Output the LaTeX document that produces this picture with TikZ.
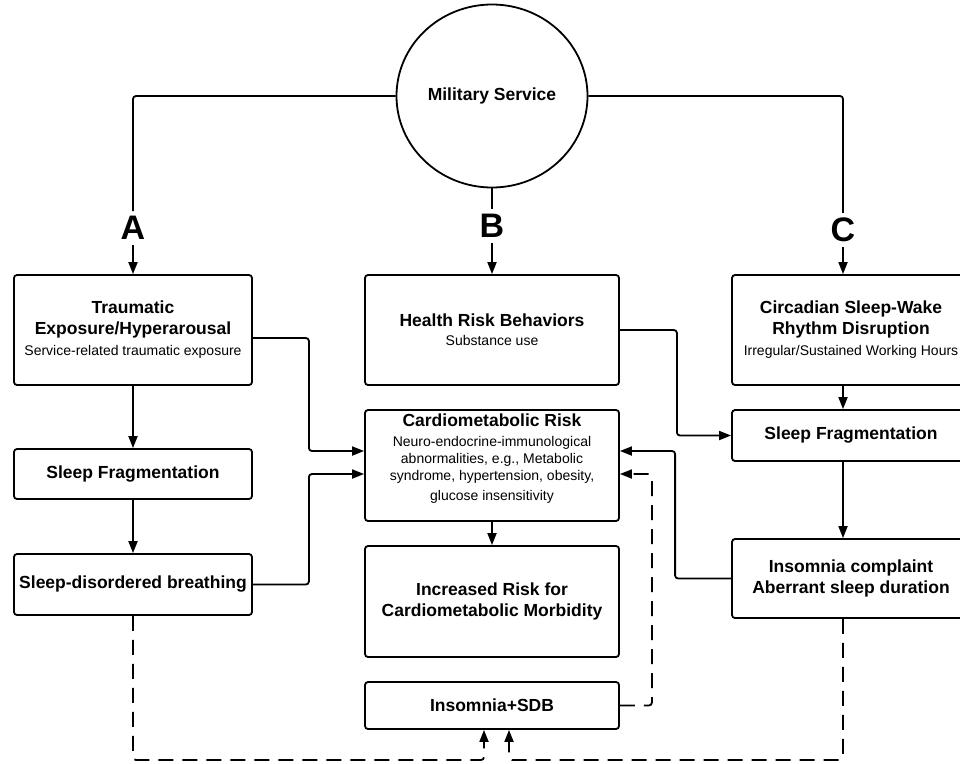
\documentclass[tikz,border=0pt]{standalone}
\usepackage{fontspec}
\setmainfont{Liberation Sans}
\usetikzlibrary{arrows.meta,shapes.geometric}
\newcommand{\tfont}{\fontsize{17.5}{21}\selectfont\bfseries}
\newcommand{\bodyfont}{\fontsize{14}{17}\selectfont}
\begin{document}
\begin{tikzpicture}[x=1pt,y=-1pt,
  box/.style={draw, line width=1.8pt, rounded corners=3pt, align=center, inner sep=0pt, font=\bodyfont},
  letter/.style={font=\fontsize{34}{40}\selectfont\bfseries, inner sep=5pt},
  plain/.style={line width=1.8pt, rounded corners=3pt},
  conn/.style={line width=1.8pt, rounded corners=3pt, -{Triangle[length=12pt,width=9pt]}},
  dconn/.style={line width=1.8pt, rounded corners=3pt, dash pattern=on 15pt off 9pt, -{Triangle[length=12pt,width=9pt]}}
]
\useasboundingbox (0,0) rectangle (960,763);

\node[draw, ellipse, line width=1.8pt, minimum width=191pt, minimum height=183pt, inner sep=0pt, font=\tfont] (MS) at (492,96) {Military Service};

\node[letter] (A) at (133,228) {A};
\node[letter] (B) at (492,226) {B};
\node[letter] (C) at (843,230) {C};

\node[box, minimum width=238pt, minimum height=110pt] (T) at (133,330)
  {{\tfont Traumatic}\\[4pt]{\tfont Exposure/Hyperarousal}\\[4pt]Service-related traumatic exposure};
\node[box, minimum width=254pt, minimum height=110pt] (H) at (492,330)
  {{\tfont Health Risk Behaviors}\\[2pt]Substance use};
\node[box, minimum width=238pt, minimum height=110pt] (Circ) at (851,330)
  {{\tfont Circadian Sleep-Wake}\\[4pt]{\tfont Rhythm Disruption}\\[4pt]Irregular/Sustained Working Hours};

\node[box, minimum width=238pt, minimum height=50pt, font=\tfont] (SFL) at (133,474) {Sleep Fragmentation};
\node[box, minimum width=238pt, minimum height=61pt, font=\tfont] (SDB) at (133,584.5) {Sleep-disordered breathing};

\node[box, minimum width=254pt, minimum height=111pt] (CR) at (492,465.5)
  {{\tfont Cardiometabolic Risk}\\[3pt]Neuro-endocrine-immunological\\abnormalities, e.g., Metabolic\\syndrome, hypertension, obesity,\\[3pt]glucose insensitivity\\[-1pt]\mbox{}};
\node[box, minimum width=254pt, minimum height=111pt, font=\tfont] (IR) at (492,601.5)
  {Increased Risk for\\Cardiometabolic Morbidity};
\node[box, minimum width=254pt, minimum height=47pt, font=\tfont] (ISDB) at (492,705.5) {Insomnia+SDB};

\node[box, minimum width=238pt, minimum height=51pt, font=\tfont] (SFR) at (851,435.5) {Sleep Fragmentation};
\node[box, minimum width=238pt, minimum height=79pt, font=\tfont] (Ins) at (851,578.5)
  {Insomnia complaint\\Aberrant sleep duration\\[-17pt]\mbox{}};

\coordinate (bl) at (133,760);
\coordinate (br) at (843,760);

% top tree
\draw[plain] (MS.west) -| (A.north);
\draw[plain] (MS.east) -| (C.north);
\draw[plain] (MS.south) -- (B.north);
\draw[conn] (A.south) -- (T.north);
\draw[conn] (B.south) -- (H.north);
\draw[conn] (C.south) -- (C.south |- Circ.north);

% column A
\draw[conn] (T.south) -- (SFL.north);
\draw[conn] (SFL.south) -- (SDB.north);
\draw[conn] ([yshift=-8pt]T.east) -- ++(56,0) |- ([yshift=14.5pt]CR.west);
\draw[conn] (SDB.east) -- ++(56,0) |- ([yshift=-8.5pt]CR.west);

% column B
\draw[conn] (CR.south) -- (IR.north);
\draw[conn] (H.east) -- ++(57,0) |- (SFR.west);

% column C
\draw[conn] (C.south |- Circ.south) -- (C.south |- SFR.north);
\draw[conn] (C.south |- SFR.south) -- (C.south |- Ins.north);
\draw[conn] (Ins.west) -- ++(-56,0) |- ([yshift=14.5pt]CR.east);

% dashed feedback
\draw[dconn] (ISDB.east) -- ++(32,0) |- ([yshift=-8.5pt]CR.east);
\draw[dconn] (SDB.south) -- (bl) -| ([xshift=-8pt]ISDB.south);
\draw[dconn] (C.south |- Ins.south) -- (br) -| ([xshift=17pt]ISDB.south);
\end{tikzpicture}
\end{document}
